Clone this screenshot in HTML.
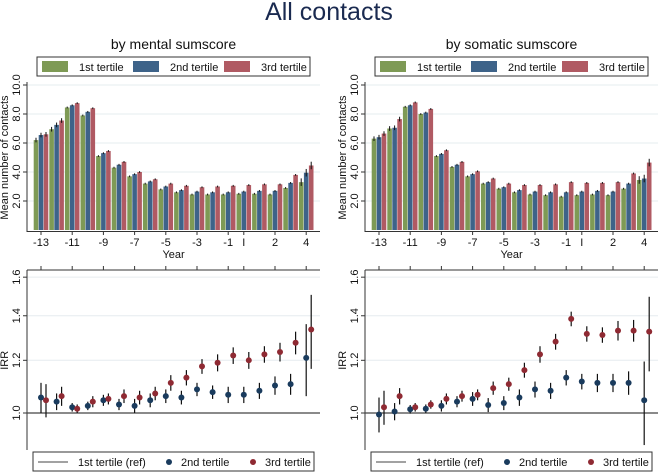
<!DOCTYPE html>
<html><head><meta charset="utf-8"><style>
body{margin:0;background:#fff;}
svg{display:block;font-family:"Liberation Sans",sans-serif;}
</style></head><body>
<svg id="c" width="658" height="472">
<text x="329" y="20" font-size="25" fill="#1a2a50" text-anchor="middle">All contacts</text>
</svg>
<script>
const groups = ["-13","-12","-11","-10","-9","-8","-7","-6","-5","-4","-3","-2","-1","I","1","2","3","4"];
const tickLabels = {0:"-13",2:"-11",4:"-9",6:"-7",8:"-5",10:"-3",12:"-1",13:"I",15:"2",17:"4"};
const mentalT1 = [6.2,6.95,8.45,7.9,5.1,4.3,3.7,3.2,2.8,2.6,2.45,2.45,2.45,2.5,2.5,2.45,2.9,3.3];
const mentalT2 = [6.55,7.25,8.6,8.15,5.3,4.5,3.85,3.35,3.0,2.75,2.65,2.6,2.6,2.65,2.7,2.7,3.25,3.95];
const mentalT3 = [6.6,7.55,8.75,8.4,5.45,4.7,4.0,3.5,3.2,3.05,2.95,3.0,3.05,3.1,3.15,3.15,3.8,4.45];
const somaticT1 = [6.3,7.0,8.5,8.0,5.1,4.35,3.7,3.2,2.85,2.6,2.45,2.4,2.3,2.4,2.45,2.4,2.85,3.45];
const somaticT2 = [6.4,7.05,8.6,8.1,5.25,4.5,3.85,3.3,2.95,2.75,2.65,2.6,2.6,2.65,2.7,2.65,3.2,3.55];
const somaticT3 = [6.65,7.65,8.8,8.35,5.5,4.7,4.05,3.55,3.2,3.1,3.1,3.15,3.3,3.25,3.25,3.3,3.9,4.65];
const mentalIrr2 = [1.055,1.04,1.02,1.025,1.045,1.03,1.025,1.045,1.06,1.055,1.085,1.075,1.065,1.065,1.08,1.10,1.105,1.21];
const mentalErr2 = [0.055,0.03,0.015,0.015,0.02,0.02,0.025,0.025,0.025,0.025,0.025,0.025,0.03,0.03,0.03,0.035,0.04,0.15];
const mentalIrr3 = [1.045,1.06,1.015,1.04,1.05,1.06,1.055,1.07,1.11,1.13,1.175,1.19,1.22,1.20,1.225,1.235,1.275,1.335];
const mentalErr3 = [0.06,0.035,0.015,0.02,0.02,0.025,0.025,0.025,0.03,0.03,0.03,0.035,0.035,0.035,0.035,0.04,0.05,0.17];
const somaticIrr2 = [0.995,1.005,1.013,1.015,1.025,1.04,1.05,1.028,1.035,1.055,1.085,1.08,1.13,1.115,1.11,1.11,1.11,1.045];
const somaticErr2 = [0.06,0.03,0.015,0.015,0.02,0.02,0.025,0.025,0.025,0.03,0.03,0.03,0.03,0.03,0.035,0.035,0.045,0.15];
const somaticIrr3 = [1.02,1.06,1.02,1.03,1.05,1.06,1.065,1.09,1.105,1.16,1.225,1.28,1.385,1.315,1.31,1.33,1.33,1.325];
const somaticErr3 = [0.06,0.03,0.015,0.015,0.02,0.02,0.02,0.025,0.025,0.03,0.035,0.035,0.035,0.035,0.035,0.045,0.05,0.17];
const barTicks = [2,4,6,8,10];
const irrTicks = [1.0,1.2,1.4,1.6];

const svg = document.getElementById('c');
const NS = 'http://www.w3.org/2000/svg';
function mk(tag, attrs, text){
  const e = document.createElementNS(NS, tag);
  for (const k in attrs) e.setAttribute(k, attrs[k]);
  if (text !== undefined) e.textContent = text;
  svg.appendChild(e); return e;
}
const COL = ['#7e9a55','#3e6389','#b05a63'];
const DOT = ['#1a3b5d','#8f2a33'];
const STEP = 15.6;
const yBar = v => 230 - v*14.5;
const yIrr = v => 413 - Math.log(v)*289;

function panel(ax, right, g0, title, t1, t2, t3, i2, e2, i3, e3){
  const xg = i => g0 + i*STEP;
  let e;
  e = mk('text',{x:(ax+right)/2,y:49,'font-size':14,'text-anchor':'middle',fill:'#111'},title);
   
  const lx = ax+10, lw = right-ax-20;
  e = mk('rect',{x:lx,y:57,width:lw,height:19,fill:'#fff',stroke:'#333','stroke-width':1});
   
  ['1st tertile','2nd tertile','3rd tertile'].forEach((t,k)=>{
    const bx = lx + 5 + k*lw/3;
    e = mk('rect',{x:bx,y:61,width:26,height:11,fill:COL[k]});
     
    e = mk('text',{x:bx+37,y:71,'font-size':11,fill:'#111'},t);
     
  });
  barTicks.forEach(v=>{
    mk('line',{x1:ax,x2:right,y1:yBar(v),y2:yBar(v),stroke:'#e6ecef','stroke-width':1});
    mk('line',{x1:ax-4,x2:ax,y1:yBar(v),y2:yBar(v),stroke:'#333'});
    e = mk('text',{x:0,y:0,'font-size':11,'text-anchor':'middle',fill:'#111',transform:`translate(${ax-7},${yBar(v)}) rotate(-90)`},v.toFixed(1));
     
  });
  e = mk('text',{x:0,y:0,'font-size':11,'text-anchor':'middle',fill:'#111',transform:`translate(${ax-19},${yBar(5)}) rotate(-90)`},'Mean number of contacts');
   
  const bw = 4.6;
  [t1,t2,t3].forEach((arr,k)=>{
    arr.forEach((v,i)=>{
      const x = xg(i) + (k-1)*(bw+0.4) - bw/2;
      e = mk('rect',{x:x,y:yBar(v),width:bw,height:yBar(0)-yBar(v),fill:COL[k]});
       
      const ci = 0.06 + (i===17?0.2:0) + (i<2?0.1:0);
      mk('line',{x1:x+bw/2,x2:x+bw/2,y1:yBar(v+ci),y2:yBar(v-ci),stroke:'#111','stroke-width':1});
    });
  });
  mk('line',{x1:ax,x2:ax,y1:82,y2:232,stroke:'#333'});
  mk('line',{x1:ax,x2:right,y1:231.5,y2:231.5,stroke:'#333'});
  for (const i in tickLabels){
    const x = xg(+i);
    mk('line',{x1:x,x2:x,y1:231.5,y2:235,stroke:'#333'});
    e = mk('text',{x:x,y:246,'font-size':11,'text-anchor':'middle',fill:'#111'},tickLabels[i]);
     
    mk('line',{x1:x,x2:x,y1:266,y2:270,stroke:'#333'});
  }
  e = mk('text',{x:xg(8.5),y:258,'font-size':11,'text-anchor':'middle',fill:'#111'},'Year');
   
  mk('line',{x1:ax,x2:right,y1:270,y2:270,stroke:'#333'});
  irrTicks.forEach(v=>{
    if (v>1) mk('line',{x1:ax,x2:right,y1:yIrr(v),y2:yIrr(v),stroke:'#e6ecef'});
    mk('line',{x1:ax-4,x2:ax,y1:yIrr(v),y2:yIrr(v),stroke:'#333'});
    e = mk('text',{x:0,y:0,'font-size':11,'text-anchor':'middle',fill:'#111',transform:`translate(${ax-7},${yIrr(v)}) rotate(-90)`},v.toFixed(1));
     
  });
  e = mk('text',{x:0,y:0,'font-size':11,'text-anchor':'middle',fill:'#111',transform:`translate(${ax-19},${yIrr(1.2)}) rotate(-90)`},'IRR');
   
  mk('line',{x1:ax,x2:ax,y1:270,y2:450,stroke:'#333'});
  e = mk('line',{x1:ax,x2:right,y1:yIrr(1),y2:yIrr(1),stroke:'#444','stroke-width':1.3});
   
  [[i2,e2,0,0],[i3,e3,1,5]].forEach(([vals,errs,k,dx])=>{
    vals.forEach((v,i)=>{
      const x = xg(i)+dx;
      mk('line',{x1:x,x2:x,y1:yIrr(v+errs[i]),y2:yIrr(Math.max(0.5,v-errs[i])),stroke:'#111','stroke-width':1.2});
      e = mk('circle',{cx:x,cy:yIrr(v),r:3,fill:DOT[k]});
       
    });
  });
  const bx = ax+6, bwid = right-ax-12;
  e = mk('rect',{x:bx,y:452,width:bwid,height:19,fill:'#fff',stroke:'#333'});
   
  mk('line',{x1:bx+5,x2:bx+35,y1:462,y2:462,stroke:'#444'});
  e = mk('text',{x:bx+45,y:466,'font-size':11,fill:'#111'},'1st tertile (ref)');
   
  mk('circle',{cx:bx+136,cy:462,r:3,fill:DOT[0]});
  e = mk('text',{x:bx+148,y:466,'font-size':11,fill:'#111'},'2nd tertile');
   
  mk('circle',{cx:bx+220,cy:462,r:3,fill:DOT[1]});
  e = mk('text',{x:bx+232,y:466,'font-size':11,fill:'#111'},'3rd tertile');
   
}
panel(27, 320, 41, 'by mental sumscore', mentalT1, mentalT2, mentalT3, mentalIrr2, mentalErr2, mentalIrr3, mentalErr3);
panel(365, 658, 379, 'by somatic sumscore', somaticT1, somaticT2, somaticT3, somaticIrr2, somaticErr2, somaticIrr3, somaticErr3);
</script>
</body></html>
